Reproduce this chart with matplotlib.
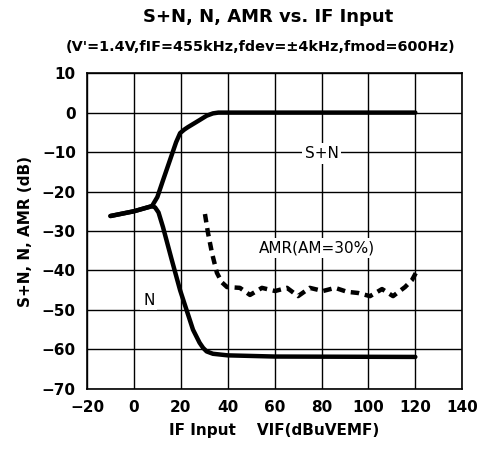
import matplotlib
matplotlib.use("Agg")
import matplotlib.pyplot as plt

# S+N curve
sn_x = [-10, 0, 7.7, 10, 12.5, 15.4, 18, 19.7, 21.5, 23, 28, 31, 33.7, 36, 40, 120]
sn_y = [-26.2, -25, -23.7, -21.4, -17, -12, -7.5, -5.2, -4.3, -3.7, -1.9, -0.8, -0.2, 0, 0, 0]

# N curve
n_x = [-10, 0, 7.7, 9, 10.5, 12.4, 16, 19.7, 25.2, 28, 29.5, 31, 33.7, 40, 60, 120]
n_y = [-26.2, -25, -23.7, -24.0, -25.3, -29, -37, -45, -55, -58.3, -59.6, -60.5, -61.1, -61.5, -61.8, -61.9]

# AMR curve
amr_x = [30.3, 31.6, 33.3, 35.4, 37.5, 39.7, 45.2, 49.5, 54.6, 60.2, 65.3, 70, 75, 80.6,
         85.8, 90.9, 95.6, 100.7, 105.8, 110.5, 115.6, 118.6, 120.7]
amr_y = [-25.7, -30.5, -35.6, -40.6, -43.0, -44.2, -44.4, -46.2, -44.4, -45.2, -44.4, -46.5,
         -44.4, -45.2, -44.4, -45.4, -45.7, -46.5, -44.7, -46.5, -44.2, -42.4, -40.1]

x_ticks = [-20, 0, 20, 40, 60, 80, 100, 120, 140]
y_ticks = [10, 0, -10, -20, -30, -40, -50, -60, -70]

fig = plt.figure(figsize=(4.78, 4.57), dpi=100)
ax = fig.add_axes([0.182, 0.149, 0.785, 0.691])

ax.plot(sn_x, sn_y, color="black", lw=3.2, solid_capstyle="round", solid_joinstyle="round", zorder=3)
ax.plot(n_x, n_y, color="black", lw=3.2, solid_capstyle="round", solid_joinstyle="round", zorder=3)
ax.plot(amr_x, amr_y, color="black", lw=3.2, linestyle=(0, (1.9, 1.3)), zorder=3)

ax.set_xlim(-20, 140)
ax.set_ylim(-70, 10)
ax.set_xticks(x_ticks)
ax.set_yticks(y_ticks)
ax.grid(True, color="black", lw=1.0)
ax.tick_params(length=0, labelsize=11, pad=8)
for lab in ax.get_xticklabels() + ax.get_yticklabels():
    lab.set_fontweight("bold")
for s in ax.spines.values():
    s.set_color("black")
    s.set_linewidth(1.2)

bbox = dict(facecolor="white", edgecolor="none", pad=2)
ax.text(80, -10.3, "S+N", ha="center", va="center", fontsize=11, bbox=bbox, zorder=4)
ax.text(6.4, -47.5, "N", ha="center", va="center", fontsize=11, bbox=bbox, zorder=4)
ax.text(78, -34.3, "AMR(AM=30%)", ha="center", va="center", fontsize=11, bbox=bbox, zorder=4)

ax.set_ylabel("S+N, N, AMR (dB)", fontsize=11, fontweight="bold", labelpad=6)
ax.set_xlabel("IF Input    VIF(dBuVEMF)", fontsize=11, fontweight="bold", labelpad=6)

fig.text(0.56, 0.963, "S+N, N, AMR vs. IF Input", ha="center", va="center",
         fontsize=13, fontweight="bold")
fig.text(0.545, 0.898, "(V'=1.4V,fIF=455kHz,fdev=\u00b14kHz,fmod=600Hz)", ha="center",
         va="center", fontsize=10.4, fontweight="bold")

fig.savefig("out.png", dpi=100)
